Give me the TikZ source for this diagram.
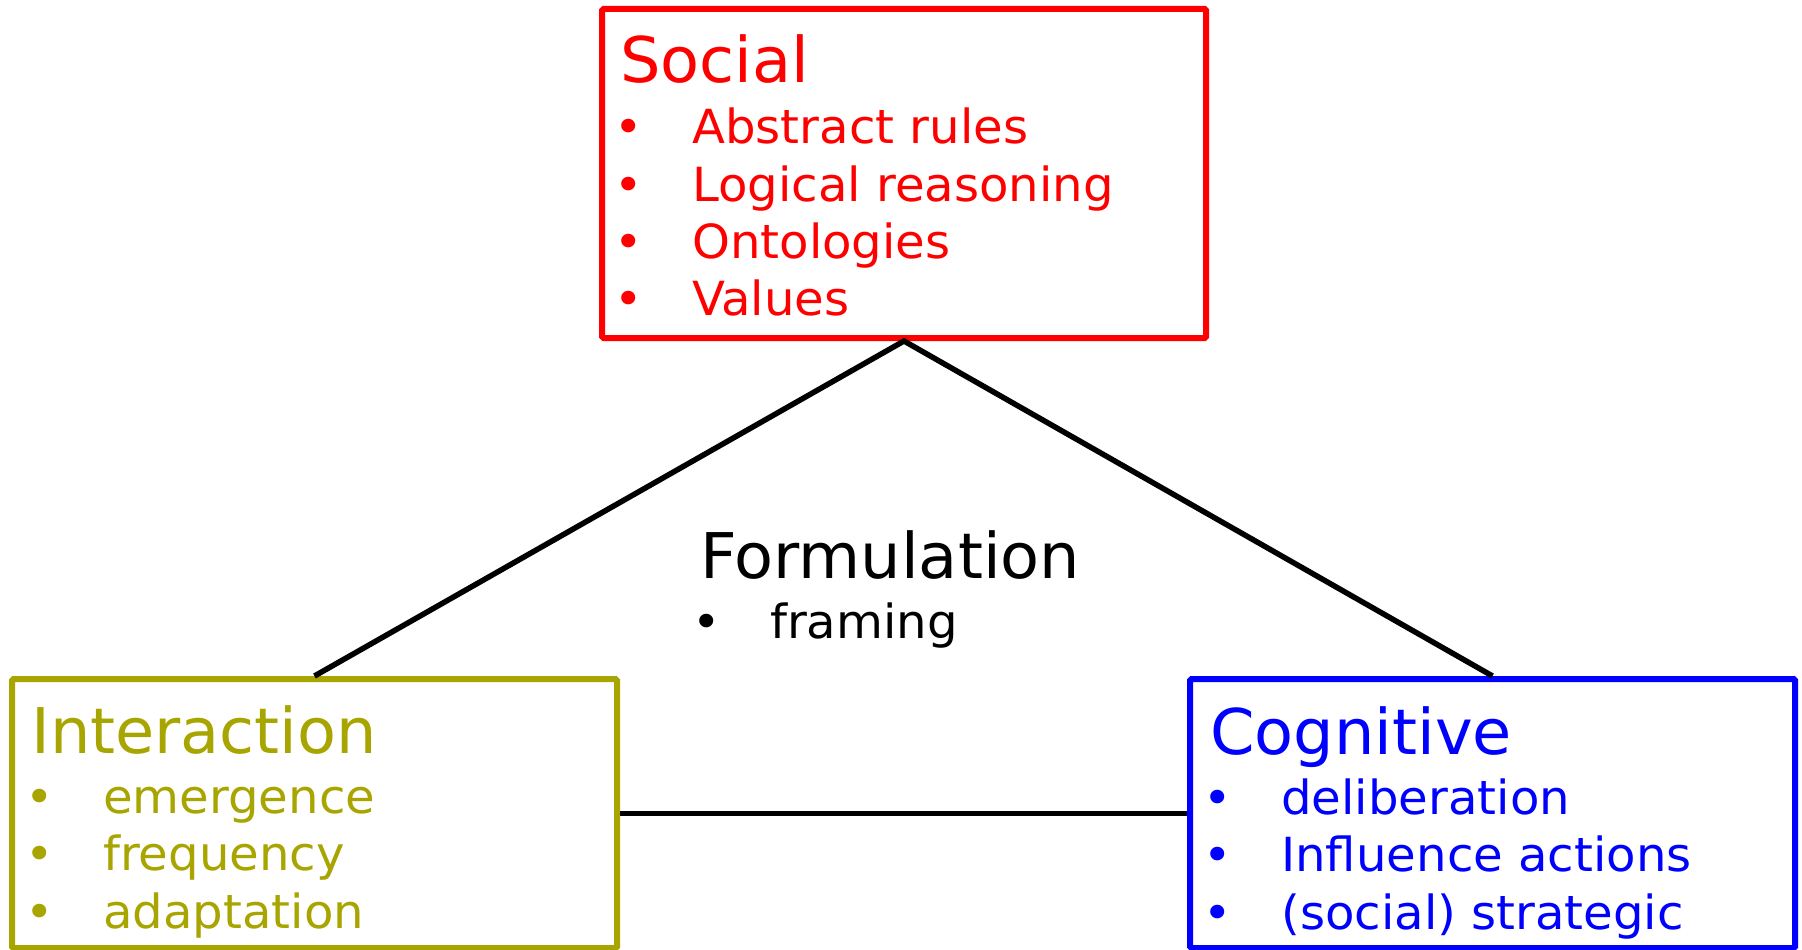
\documentclass[tikz,border=0pt]{standalone}
\usepackage{fontspec}
\setmainfont{DejaVu Sans}[FakeStretch=1.025]
\newfontfamily\headfont{DejaVu Sans}[FakeStretch=1.012]
\definecolor{socialred}{RGB}{255,0,0}
\definecolor{interolive}{RGB}{168,164,0}
\definecolor{cogblue}{RGB}{0,0,255}
\tikzset{
  panel/.style={draw, line width=6pt, rectangle, inner sep=0, rounded corners=1.5pt},
  heading/.style={anchor=base west, inner sep=0, font=\headfont\fontsize{63}{63}\selectfont},
  entry/.style={anchor=base west, inner sep=0, font=\fontsize{47}{47}\selectfont},
  dot/.style={anchor=base, inner sep=0, font=\fontsize{47}{47}\selectfont},
  link/.style={draw=black, line width=5.5pt}
}
\begin{document}
\begin{tikzpicture}[x=1pt, y=-1pt]
\useasboundingbox (0,0) rectangle (1802,950);

% the three panels
\node[panel, draw=socialred, minimum width=604pt, minimum height=329pt] (social) at (904,173.5) {};
\node[panel, draw=interolive, minimum width=605pt, minimum height=269pt] (interaction) at (314.5,813.5) {};
\node[panel, draw=cogblue, minimum width=605pt, minimum height=269pt] (cognitive) at (1492.5,813.5) {};

% connectors
\draw[link, line join=miter] (interaction.north) -- (social.south) -- (cognitive.north);
\draw[link] (interaction.east) -- (cognitive.west);

% Social
\begin{scope}[text=socialred]
\node[heading] (socT) at (620,82) {Social};
\node[dot] (socB1) at (629,143) {•};
\node[entry] (socI1) at (692,143) {Abstract rules};
\node[dot] (socB2) at (629,201) {•};
\node[entry] (socI2) at (692,201) {Logical reasoning};
\node[dot] (socB3) at (629,258) {•};
\node[entry] (socI3) at (692,258) {Ontologies};
\node[dot] (socB4) at (629,315) {•};
\node[entry] (socI4) at (692,315) {Values};
\end{scope}

% Interaction
\begin{scope}[text=interolive]
\node[heading] (intT) at (31,753) {Interaction};
\node[dot] (intB1) at (40,813) {•};
\node[entry] (intI1) at (103,813) {emergence};
\node[dot] (intB2) at (40,870) {•};
\node[entry] (intI2) at (103,870) {frequency};
\node[dot] (intB3) at (40,928) {•};
\node[entry] (intI3) at (103,928) {adaptation};
\end{scope}

% Cognitive
\begin{scope}[text=cogblue]
\node[heading] (cogT) at (1210,754) {Cognitive};
\node[dot] (cogB1) at (1218,814) {•};
\node[entry] (cogI1) at (1281,814) {deliberation};
\node[dot] (cogB2) at (1218,871) {•};
\node[entry] (cogI2) at (1281,871) {Influence actions};
\node[dot] (cogB3) at (1218,929) {•};
\node[entry] (cogI3) at (1281,929) {(social) strategic};
\end{scope}

% Formulation
\node[heading] (forT) at (700,578) {Formulation};
\node[dot] (forB1) at (707,638) {•};
\node[entry] (forI1) at (770,638) {framing};
\end{tikzpicture}
\end{document}
